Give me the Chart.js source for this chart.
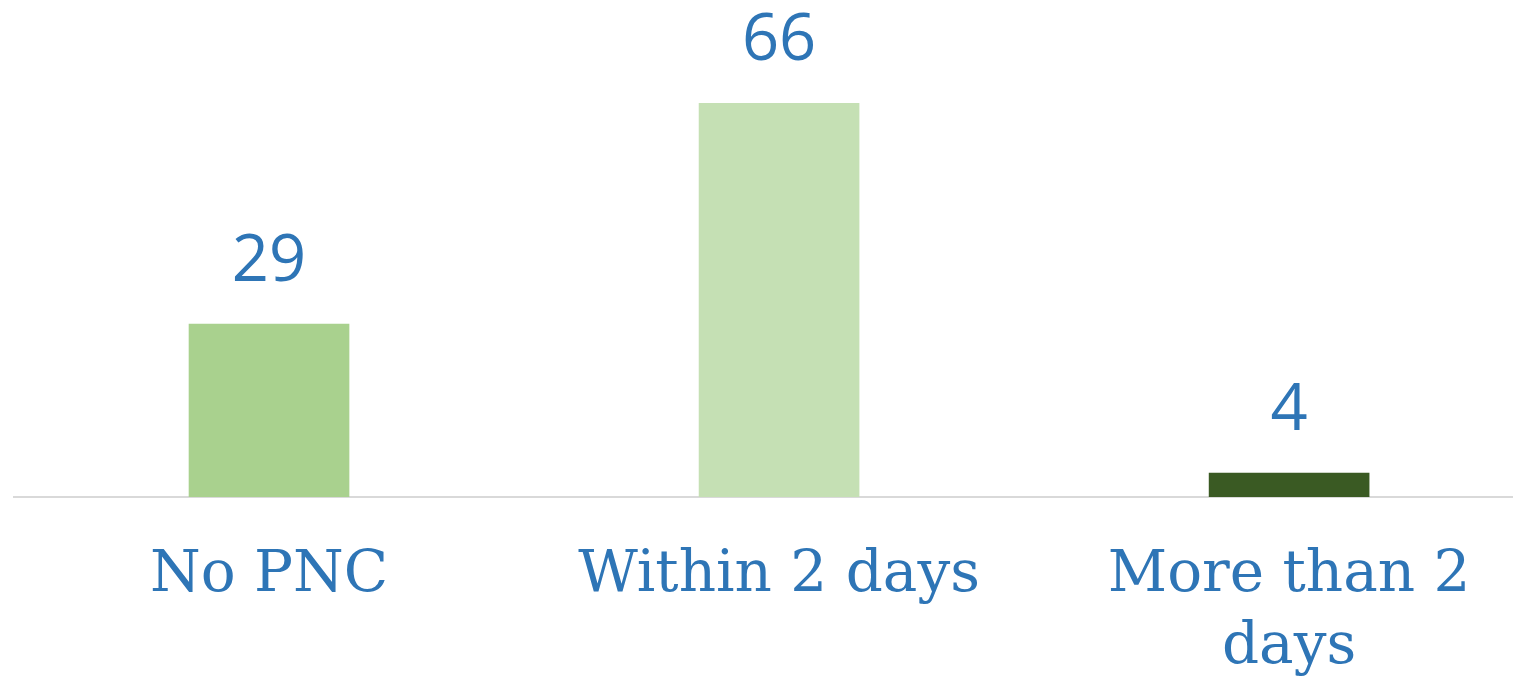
<!DOCTYPE html>
<html>
<head>
<meta charset="utf-8">
<script src="https://cdn.jsdelivr.net/npm/chart.js@4/dist/chart.umd.min.js"></script>
<style>
  html, body { margin: 0; padding: 0; background: #fff; overflow: hidden; }
</style>
</head>
<body>
<canvas id="pncChart" width="1527" height="681"></canvas>
<script>
const categories = ['No PNC', 'Within 2 days', ['More than 2', 'days']];
const values = [29, 66, 4];
const barColors = ['#A9D18E', '#C5E0B4', '#3A5A23'];

const labelBlue = '#2E75B6';

// value labels above each bar
const valueLabels = {
    id: 'valueLabels',
    afterDatasetsDraw(chart) {
        const ctx = chart.ctx;
        const meta = chart.getDatasetMeta(0);
        ctx.save();
        ctx.fillStyle = labelBlue;
        ctx.font = '65px "Open Sans"';
        ctx.textAlign = 'center';
        ctx.textBaseline = 'bottom';
        meta.data.forEach(function (bar, i) {
            ctx.fillText(String(values[i]), bar.x, bar.y - 29);
        });
        ctx.restore();
    }
};

const ctx = document.getElementById('pncChart').getContext('2d');
const pncChart = new Chart(ctx, {
    type: 'bar',
    data: {
        datasets: [{
            data: values.map(function (v, i) { return { x: i, y: v }; }),
            backgroundColor: barColors,
            barThickness: 160,
            borderWidth: 0
        }]
    },
    options: {
        responsive: false,
        animation: false,
        layout: { padding: { left: 14, right: 15, top: 0, bottom: 0 } },
        scales: {
            x: {
                type: 'linear',
                offset: false,
                min: -0.5,
                max: 2.437,
                grid: { display: false, drawTicks: false, offset: false },
                border: { display: true, color: '#D9D9D9', width: 2 },
                afterBuildTicks: function (scale) {
                    scale.ticks = categories.map(function (c, i) { return { value: i }; });
                },
                afterFit: function (scale) {
                    scale.height = 184;
                },
                ticks: {
                    autoSkip: false,
                    maxRotation: 0,
                    padding: 43,
                    color: labelBlue,
                    font: { family: '"DejaVu Serif"', size: 58, lineHeight: 1.24 },
                    callback: function (value) {
                        return categories[value];
                    }
                }
            },
            y: {
                display: false,
                min: 0,
                max: 83.3
            }
        },
        plugins: {
            legend: { display: false },
            tooltip: { enabled: false }
        }
    },
    plugins: [valueLabels]
});
</script>
</body>
</html>
